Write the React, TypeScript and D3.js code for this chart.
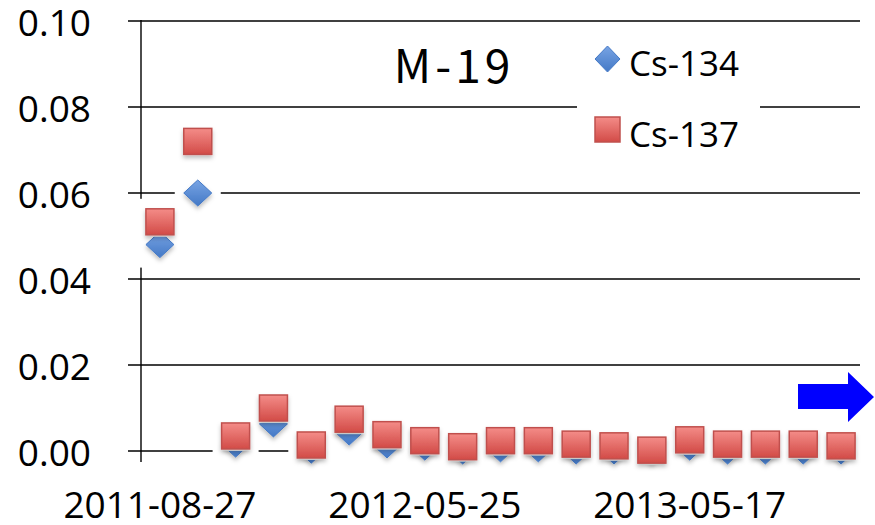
import React from "react";
import * as d3 from "d3";

const categories = [
  "2011-08-27", "2011-10-05", "2011-11-22", "2011-12-20", "2012-01-24",
  "2012-02-21", "2012-03-27", "2012-05-25", "2012-07-05", "2012-08-22",
  "2012-10-11", "2012-11-28", "2013-01-16", "2013-03-21", "2013-05-17",
  "2013-07-10", "2013-08-28", "2013-10-23", "2013-12-11",
];
const cs134 = [
  0.048, 0.060, 0.0016, 0.0063, 0.0002, 0.0044, 0.0014, 0.0009, 0.0000, 0.0005,
  0.0005, 0.0000, 0.0000, 0.0000, 0.0009, 0.0000, 0.0000, 0.0000, 0.0000,
];
const cs137 = [
  0.0533, 0.0720, 0.0035, 0.0100, 0.0014, 0.0074, 0.0038, 0.0024, 0.0010, 0.0024,
  0.0024, 0.0016, 0.0012, 0.0002, 0.0026, 0.0016, 0.0016, 0.0016, 0.0012,
];
const tickLabels = ["2011-08-27", "2012-05-25", "2013-05-17"];
const yTicks = [0, 0.02, 0.04, 0.06, 0.08, 0.1];
const title = "M-19";
const seriesNames = ["Cs-134", "Cs-137"];

const W = 875;
const H = 525;
const FONT = "'Open Sans', 'Liberation Sans', sans-serif";

export default function App() {
  const x = d3.scaleBand<string>().domain(categories).range([141, 860]).padding(0);
  const y = d3.scaleLinear().domain([0, 0.1]).range([451, 21]);
  const cx = (c: string) => (x(c) as number) + x.bandwidth() / 2;

  const mw = 28;
  const mh = 26;
  const haloX = 9;
  const haloY = 10;

  const diamond = (px: number, py: number, w: number, h: number) =>
    `M${px},${py - h / 2}L${px + w / 2},${py}L${px},${py + h / 2}L${px - w / 2},${py}Z`;

  return (
    <svg width={W} height={H} style={{ position: "absolute", left: 0, top: 0, background: "#fff" }}>
      <defs>
        <linearGradient id="gBlue" x1="0" y1="0" x2="0" y2="1">
          <stop offset="0" stopColor="#78a4e4" />
          <stop offset="1" stopColor="#4479c6" />
        </linearGradient>
        <linearGradient id="gRed" x1="0" y1="0" x2="0" y2="1">
          <stop offset="0" stopColor="#f48c88" />
          <stop offset="1" stopColor="#d24b47" />
        </linearGradient>
        <filter id="shadow" x="-30%" y="-30%" width="160%" height="170%">
          <feDropShadow dx="0" dy="3" stdDeviation="2" floodColor="#000" floodOpacity="0.25" />
        </filter>
      </defs>
      <rect x={0} y={0} width={W} height={H} fill="#fff" />

      {yTicks.map((t) => (
        <line key={"g" + t} x1={128} x2={860} y1={y(t)} y2={y(t)} stroke="#000" strokeWidth={1.4} />
      ))}
      <line x1={141} x2={141} y1={20} y2={462} stroke="#000" strokeWidth={1.4} />

      <rect x={577} y={38} width={183} height={120} fill="#fff" />

      {categories.map((c, i) => {
        const px = cx(c);
        const top = Math.min(y(cs134[i]), y(cs137[i])) - mh / 2 - haloY;
        const bot = Math.max(y(cs134[i]), y(cs137[i])) + mh / 2 + haloY;
        return (
          <rect key={"h" + c} x={px - mw / 2 - haloX} y={top} width={mw + 2 * haloX} height={bot - top} fill="#fff" />
        );
      })}

      {categories.map((c, i) => (
        <path key={"d" + c} d={diamond(cx(c), y(cs134[i]), mw, mh)} fill="url(#gBlue)" stroke="#4479c6" strokeWidth={1} filter="url(#shadow)" />
      ))}

      {categories.map((c, i) => {
        const px = cx(c);
        const py = y(cs137[i]);
        return (
          <g key={"s" + c}>
            <rect x={px - mw / 2 - 2} y={py - mh / 2 - 2} width={mw + 4} height={mh + 4} fill="#fff" />
            <rect x={px - mw / 2} y={py - mh / 2} width={mw} height={mh} fill="url(#gRed)" stroke="#c0504d" strokeWidth={1.5} filter="url(#shadow)" />
          </g>
        );
      })}

      <path d={diamond(607.5, 59, 25, 26)} fill="url(#gBlue)" stroke="#4479c6" strokeWidth={1} />
      <text x={629} y={76} fontFamily={FONT} fontSize={35} fill="#000">{seriesNames[0]}</text>
      <rect x={595} y={117} width={25} height={25} fill="url(#gRed)" stroke="#c0504d" strokeWidth={1.5} />
      <text x={629} y={147} fontFamily={FONT} fontSize={35} fill="#000">{seriesNames[1]}</text>

      <text x={454} y={83} textAnchor="middle" fontFamily="'Noto Sans CJK JP', 'DejaVu Sans', sans-serif" fontWeight={400} fontSize={46} letterSpacing={4} fill="#000">{title}</text>

      {yTicks.map((t) => (
        <text key={"yl" + t} x={91} y={y(t) + 15} textAnchor="end" fontFamily={FONT} fontSize={37} fill="#000">
          {d3.format(".2f")(t)}
        </text>
      ))}

      {tickLabels.map((c) => (
        <text key={"xl" + c} x={cx(c)} y={518} textAnchor="middle" fontFamily={FONT} fontSize={37} fill="#000">
          {c}
        </text>
      ))}

      <path d="M798,384L848,384L848,372L874,397L848,422L848,409L798,409Z" fill="#0000ff" />
    </svg>
  );
}
